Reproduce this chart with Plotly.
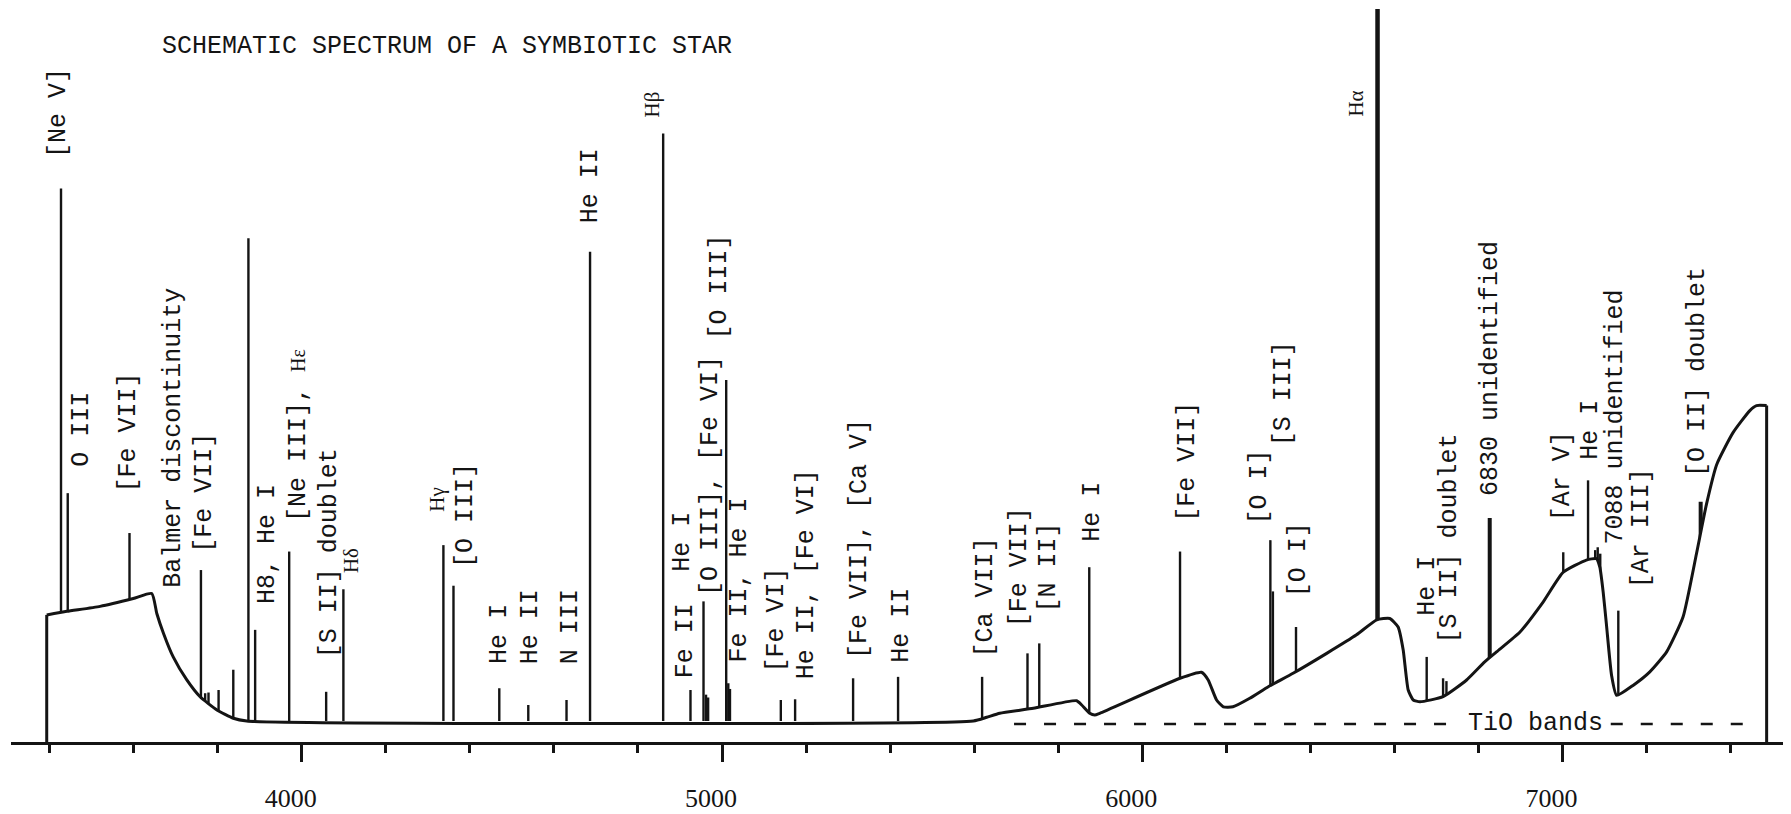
import plotly.graph_objects as go

# ---------------- data (wavelength in Angstrom, flux relative to H-alpha peak = 100) ----------------
# continuum outline
cont_wl = [3393, 3441, 3520, 3599, 3643, 3655, 3671, 3694, 3726, 3758, 3798, 3837, 3869,
           5598, 5630, 5661, 5741, 5844, 5856, 5875, 5887, 5899, 6090, 6141, 6157, 6177, 6193, 6216, 6256,
           6300, 6359, 6439, 6510, 6558, 6589, 6609, 6621, 6633, 6645, 6661, 6716, 6772, 6815, 6843,
           6899, 6954, 7002, 7057, 7081, 7089, 7097, 7105, 7117, 7129, 7168, 7208, 7248, 7287, 7319, 7343,
           7367, 7406, 7446, 7462, 7486]
cont_flux = [14.9, 15.4, 16.1, 17.2, 17.9, 15.1, 12.3, 9.0, 5.8, 3.4, 1.55, 0.38, 0,
             0, 0.52, 1.08, 1.78, 2.85, 2.25, 1.08, 0.84, 1.08, 6.0, 6.84, 5.76, 2.95, 2.0, 2.0, 3.19,
             4.82, 6.7, 9.5, 12.1, 14.2, 14.4, 13.2, 10.0, 4.35, 2.95, 2.7, 3.41, 5.76, 8.3, 9.7,
             12.5, 16.7, 20.9, 22.6, 22.8, 21.6, 18.1, 13.4, 6.4, 3.6, 5.0, 6.9, 9.7, 14.6, 23.5, 30.5,
             36.0, 40.5, 43.6, 44.3, 44.3]

# emission lines (position, peak height)
line_wl = [3427, 3443, 3590, 3760, 3770, 3778, 3802, 3837, 3873, 3889, 3970, 4058, 4099,
           4337, 4361, 4470, 4539, 4630, 4686, 4860, 4925, 4956, 4962, 4967, 5010, 5015, 5019,
           5140, 5174, 5312, 5419, 5619, 5727, 5755, 5874, 6090, 6305, 6311, 6366,
           6677, 6716, 6724, 7002, 7061, 7078, 7084, 7090, 7133]
line_peak = [74.8, 32.0, 26.4, 21.2, 3.9, 4.0, 4.35, 7.2, 67.8, 12.8, 23.8, 4.1, 18.5,
             24.7, 19.0, 4.6, 2.25, 2.95, 65.9, 82.5, 4.35, 16.8, 3.7, 3.3, 47.9, 5.3, 4.5,
             2.95, 3.05, 6.0, 6.2, 6.2, 9.5, 10.9, 21.6, 23.8, 25.4, 18.2, 13.2,
             9.0, 6.0, 5.6, 23.7, 33.8, 24.0, 24.4, 23.5, 15.5]

halpha_wl, halpha_peak = 6560, 100.0
band6830_wl, band6830_peak = 6827, 28.5
oii_wl, oii_peak = 7329, 30.8

# TiO band marker (start, gap start, gap end, end) and its level
tio_wl = [5695, 6730, 7115, 7451]
tio_level = -0.42

# line identifications: text, wavelength of label column, flux at label's lower end
label_text = ["[Ne V]", "O III", "[Fe VII]", "Balmer discontinuity", "[Fe VII]", "H8, He I",
              "[Ne III], <span style='font-family:Liberation Serif;font-size:20px'>Hε</span>",
              "[S II] doublet", "Hδ", "Hγ", "[O III]", "He I", "He II", "N III", "He II", "Hβ",
              "Fe II", "He I", "[O III], [Fe VI]", "[O III]", "Fe II, He I", "[Fe VI]",
              "He II, [Fe VI]", "[Fe VII], [Ca V]", "He II", "[Ca VII]", "[Fe VII]", "[N II]",
              "He I", "[Fe VII]", "[O I]", "[S III]", "[O I]", "Hα", "He I", "[S II] doublet",
              "6830 unidentified", "[Ar V]", "He I", "7088 unidentified", "[Ar III]", "[O II] doublet"]
label_wl = [3421, 3477, 3587, 3694, 3770, 3920, 3992, 4066, 4117, 4321, 4388, 4472, 4543, 4638,
            4686, 4833, 4912, 4907, 4971, 4995, 5042, 5130, 5201, 5329, 5428, 5626, 5709, 5776,
            5880, 6106, 6280, 6335, 6371, 6508, 6677, 6732, 6827, 7001, 7065, 7127, 7187, 7320]
label_flux = [79.0, 35.5, 32.0, 18.6, 23.5, 16.3, 27.8, 8.6, 20.7, 29.2, 21.4, 7.9, 7.9, 7.9,
              69.7, 84.6, 5.8, 20.8, 17.4, 53.5, 8.1, 6.7, 5.8, 8.6, 8.1, 8.8, 13.0, 15.1,
              25.0, 27.8, 27.5, 38.5, 17.2, 84.7, 14.6, 10.7, 31.5, 27.9, 36.5, 24.7, 18.5, 34.1]
greek_labels = {"Hδ", "Hγ", "Hβ", "Hα"}

title_text = "SCHEMATIC SPECTRUM OF A SYMBIOTIC STAR"

# ---------------- figure ----------------
INK = "#141414"
MONO = "Liberation Mono"
SERIF = "Liberation Serif"
AXIS_FLOOR = -2.95
Y_TOP = 100.14

fig = go.Figure()

lx, ly = [], []
for w, p in zip(line_wl, line_peak):
    lx += [w, w, None]
    ly += [0, p, None]
fig.add_trace(go.Scatter(x=lx, y=ly, mode="lines", line=dict(color=INK, width=2.4),
                         hoverinfo="skip"))
fig.add_trace(go.Scatter(x=[halpha_wl, halpha_wl], y=[0, halpha_peak], mode="lines",
                         line=dict(color=INK, width=4.5), hoverinfo="skip"))
fig.add_trace(go.Scatter(x=[band6830_wl, band6830_wl, None, oii_wl, oii_wl],
                         y=[0, band6830_peak, None, 0, oii_peak], mode="lines",
                         line=dict(color=INK, width=4), hoverinfo="skip"))
# continuum (white fill masks the feet of the lines)
fig.add_trace(go.Scatter(x=cont_wl, y=cont_flux, mode="lines",
                         line=dict(color=INK, width=3, shape="spline", smoothing=0.5),
                         fill="tozeroy", fillcolor="white", hoverinfo="skip"))
# straight edges closing the spectrum down to the axis
fig.add_trace(go.Scatter(x=[cont_wl[0], cont_wl[0], None, cont_wl[-1], cont_wl[-1]],
                         y=[AXIS_FLOOR, cont_flux[0], None, cont_flux[-1], AXIS_FLOOR],
                         mode="lines", line=dict(color=INK, width=3), hoverinfo="skip"))
# TiO bands dashed marker
fig.add_trace(go.Scatter(x=[tio_wl[0], tio_wl[1], None, tio_wl[2], tio_wl[3]],
                         y=[tio_level, tio_level, None, tio_level, tio_level], mode="lines",
                         line=dict(color=INK, width=2.5, dash="12px,18px"), hoverinfo="skip"))

annotations = []
for t, w, f in zip(label_text, label_wl, label_flux):
    is_greek = t in greek_labels
    annotations.append(dict(
        x=w, y=f, xref="x", yref="y", text=t, showarrow=False, textangle=-90,
        xanchor="center", yanchor="bottom", borderpad=0,
        font=dict(family=SERIF if is_greek else MONO, size=21 if is_greek else 25, color=INK)))
annotations.append(dict(x=6937, y=tio_level, xref="x", yref="y", text="TiO bands", showarrow=False,
                        xanchor="center", yanchor="middle", borderpad=0,
                        font=dict(family=MONO, size=25, color=INK)))
annotations.append(dict(x=0.0831, y=0.9482, xref="paper", yref="paper", text=title_text,
                        showarrow=False, xanchor="left", yanchor="middle",
                        font=dict(family=MONO, size=25, color=INK)))

fig.update_layout(
    width=1791, height=814,
    margin=dict(l=3, r=0, t=0, b=80),
    paper_bgcolor="white", plot_bgcolor="white", showlegend=False,
    annotations=annotations,
    xaxis=dict(range=[3308, 7563], showgrid=False, zeroline=False, showline=True,
               linewidth=3, linecolor=INK, ticks="outside", tick0=0, dtick=1000,
               ticklen=17, tickwidth=2.5, tickcolor=INK, ticklabelstandoff=14,
               ticklabelshift=-11,
               tickfont=dict(family=SERIF, size=26, color=INK),
               minor=dict(tick0=0, dtick=200, ticks="outside", ticklen=8, tickwidth=2.5,
                          tickcolor=INK, showgrid=False)),
    yaxis=dict(range=[AXIS_FLOOR, Y_TOP], visible=False),
)

fig.write_html("out.html")
